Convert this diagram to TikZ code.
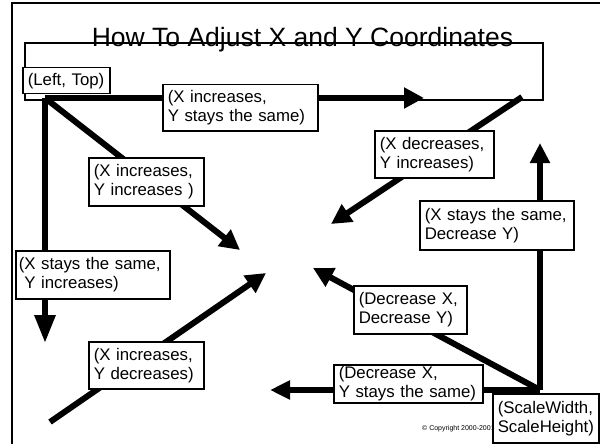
\documentclass[tikz,border=0pt]{standalone}
\usepackage{fontspec}
\setmainfont{Liberation Sans}
\usetikzlibrary{arrows.meta}
\tikzset{
  frameline/.style={line width=2pt},
  thinline/.style={line width=1.5pt},
  heavy/.style={line width=6pt, -{Triangle[length=20pt,width=20pt]}},
  heavyplain/.style={line width=6pt},
  lbl/.style={draw, fill=white, line width=1.5pt, anchor=north west,
    align=left, inner xsep=5pt, inner ysep=0pt,
    font=\fontsize{16.8pt}{19pt}\selectfont},
}
\begin{document}
\begin{tikzpicture}[x=1pt,y=-1pt]
\useasboundingbox (0,0) rectangle (600,444);
% outer frame
\draw[frameline] (12,444) -- (12,3) -- (600,3);
% title
\node[anchor=base, inner sep=0pt, font=\fontsize{26.5pt}{30pt}\selectfont] (title) at (302.5,47) {How To Adjust X and Y Coordinates};
% thin rectangle
\draw[thinline] (25,43) rectangle (543,100);
% coordinates
\coordinate (tl) at (45,98);
\coordinate (br) at (540,390);
\coordinate (ll) at (50,422);
\coordinate (ur) at (522,97);
\coordinate (e1) at (424,98);
\coordinate (e2) at (45,343);
\coordinate (e3) at (240,250);
\coordinate (e4) at (266,273);
\coordinate (e5) at (331,224);
\coordinate (e6) at (540,143);
\coordinate (e7) at (313,268);
\coordinate (e8) at (270,390);
% thick arrows
\draw[heavy] (tl) -- (e1);
\draw[heavyplain, -{Triangle[length=28pt,width=20pt]}] (tl) -- (e2);
\draw[heavy] (tl) -- (e3);
\draw[heavy] (ll) -- (e4);
\draw[heavy] (ur) -- (e5);
\draw[heavyplain, -{Triangle[length=20pt,width=19pt]}] (br) -- (e6);
\draw[heavy] (br) -- (e7);
\draw[heavyplain, -{Triangle[length=20pt,width=18pt]}] (br) -- (e8);
% copyright
\node[anchor=base west, inner sep=0pt, font=\fontsize{7pt}{8pt}\selectfont] (copy) at (422,430) {© Copyright 2000-2001};
% labels
\node[lbl, text width=77pt, minimum height=26pt] (lt) at (22,67) {(Left, Top)};
\node[lbl, text width=145pt, minimum height=46pt] (b1) at (162,84) {(X increases,\\Y stays the same)};
\node[lbl, text width=109pt, minimum height=47pt] (b2) at (374,130) {(X decreases,\\Y increases)};
\node[lbl, text width=105pt, minimum height=48pt] (b3) at (88,157) {(X increases,\\Y increases )};
\node[lbl, text width=144pt, minimum height=49pt] (b4) at (419,200) {(X stays the same,\\Decrease Y)};
\node[lbl, text width=148pt, minimum height=48pt, inner xsep=3pt] (b5) at (15,250) {(X stays the same,\\\ Y increases)};
\node[lbl, text width=103pt, minimum height=48pt] (b6) at (353,285) {(Decrease X,\\Decrease Y)};
\node[lbl, text width=105pt, minimum height=47pt] (b7) at (88,341) {(X increases,\\Y decreases)};
\node[lbl, text width=139pt, minimum height=38pt] (b8) at (333,364) {(Decrease X,\\Y stays the same)};
\node[lbl, text width=96pt, minimum height=49pt] (sw) at (492,393) {(ScaleWidth,\\ScaleHeight)};
\end{tikzpicture}
\end{document}
